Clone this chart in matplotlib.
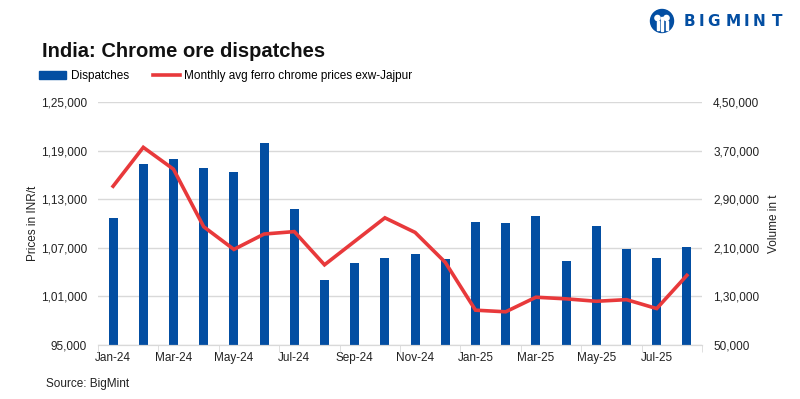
import matplotlib
matplotlib.use("Agg")
import matplotlib.pyplot as plt
from matplotlib.ticker import FuncFormatter, FixedLocator
from matplotlib.patches import Circle, Rectangle
from matplotlib.lines import Line2D
from matplotlib.patches import Patch

months = ["Jan-24", "Feb-24", "Mar-24", "Apr-24", "May-24", "Jun-24", "Jul-24", "Aug-24",
          "Sep-24", "Oct-24", "Nov-24", "Dec-24", "Jan-25", "Feb-25", "Mar-25", "Apr-25",
          "May-25", "Jun-25", "Jul-25", "Aug-25"]
dispatches = [259000, 348000, 356000, 341000, 335000, 382500, 274000, 157000,
              185000, 193000, 200000, 192000, 252500, 251000, 262000, 188000,
              246000, 208000, 193000, 211000]
prices = [114600, 119400, 116700, 109600, 106800, 108700, 109000, 104900,
          107800, 110700, 108900, 105200, 99300, 99100, 100900, 100700,
          100400, 100600, 99500, 103600]
left_ticks = [95000, 101000, 107000, 113000, 119000, 125000]
right_ticks = [50000, 130000, 210000, 290000, 370000, 450000]

BLUE = "#034EA2"
RED = "#E8393B"
FONT = "Liberation Sans"
plt.rcParams['font.family'] = [FONT, 'DejaVu Sans']


def indian(v, pos=None):
    s = str(int(round(v)))
    if len(s) <= 3:
        return s
    last3 = s[-3:]
    rest = s[:-3]
    groups = []
    while len(rest) > 2:
        groups.insert(0, rest[-2:])
        rest = rest[:-2]
    if rest:
        groups.insert(0, rest)
    return ",".join(groups + [last3])


W, H = 800, 399
fig = plt.figure(figsize=(W / 100, H / 100), dpi=100)
ax = fig.add_axes([0.1225, 0.1353, 0.755, 0.6091])
ax2 = ax.twinx()

x = list(range(len(months)))
ax2.bar(x, dispatches, width=0.3, color=BLUE, zorder=2)
ax.plot(x, prices, color=RED, lw=2.6, zorder=3, solid_joinstyle='miter')
ax.set_zorder(ax2.get_zorder() + 1)
ax.patch.set_visible(False)

ax.set_ylim(95000, 125000)
ax2.set_ylim(50000, 450000)
ax.set_xlim(-0.5, len(months) - 0.5)
ax.yaxis.set_major_locator(FixedLocator(left_ticks))
ax2.yaxis.set_major_locator(FixedLocator(right_ticks))
ax.yaxis.set_major_formatter(FuncFormatter(indian))
ax2.yaxis.set_major_formatter(FuncFormatter(indian))

for v in right_ticks:
    ax2.axhline(v, color="#D9D9D9", lw=1, zorder=0)

for a in (ax, ax2):
    for s in ("top", "left", "right"):
        a.spines[s].set_visible(False)
    a.spines["bottom"].set_color("#D9D9D9")
    a.tick_params(axis='y', length=0, labelsize=8.5, colors="#222222")

ax.tick_params(axis='y', pad=8)
ax2.tick_params(axis='y', pad=8)

ax.set_xticks(x[::2])
ax.set_xticklabels(months[::2])
ax.set_xticks([i - 0.5 for i in range(0, len(months) + 1, 2)], minor=True)
ax.tick_params(axis='x', which='major', length=0, labelsize=8.5, colors="#222222", pad=5)
ax.tick_params(axis='x', which='minor', length=5, color="#D9D9D9")
ax2.tick_params(axis='x', length=0)

ax.set_ylabel("Prices in INR/t", fontsize=8.5, color="#222222", labelpad=1)
ax2.set_ylabel("Volume in t", fontsize=8.5, color="#222222", labelpad=6)

fig.text(0.0525, 0.872, "India: Chrome ore dispatches", fontsize=14.5, fontweight="bold",
         color="#111111", va="center", ha="left")

handles = [Patch(color=BLUE), Line2D([0], [0], color=RED, lw=2.6)]
fig.legend(handles, ["Dispatches", "Monthly avg ferro chrome prices exw-Jajpur"],
           loc="center left", bbox_to_anchor=(39 / W, 1 - 76 / H), ncol=2, frameon=False,
           fontsize=8.5, handlelength=2.3, handleheight=0.6, columnspacing=2.0,
           handletextpad=0.4, borderpad=0, borderaxespad=0)

fig.text(46 / W, 1 - 384 / H, "Source: BigMint", fontsize=8.5, color="#222222", va="center")

# logo
cx, cy = 662, H - 21
fig.add_artist(Circle((cx, cy), 11.5, transform=None, color=BLUE))
for dx in (-4.5, 4.5):
    fig.add_artist(Circle((cx + dx, cy + 3), 2.6, transform=None, color="white"))
fig.add_artist(Rectangle((cx - 1, cy - 10), 2, 14, transform=None, color="white"))
for dx in (-4.5, 4.5):
    fig.add_artist(Rectangle((cx + dx - 1, cy - 9), 2, 9, transform=None, color="white"))
letters = "BIGMINT"
centers = [689.5, 701, 714, 733, 746, 759, 777.5]
for ch, c in zip(letters, centers):
    fig.text(c / W, 1 - 22 / H, ch, fontsize=11, fontweight="bold", color=BLUE,
             ha="center", va="center", family="DejaVu Sans")

fig.savefig("out.png", dpi=100)
